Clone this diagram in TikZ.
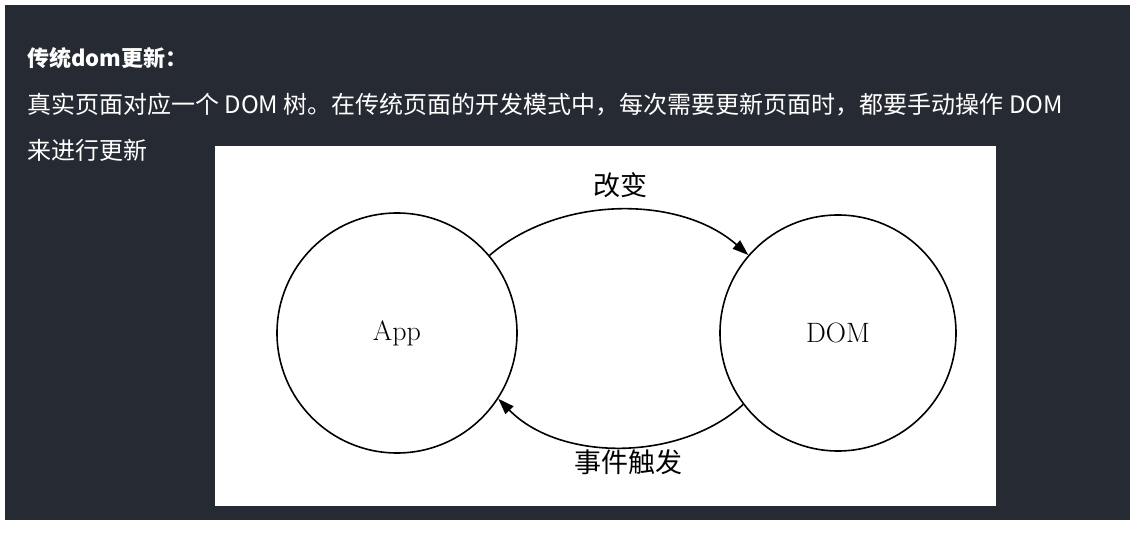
\documentclass[tikz,border=0pt]{standalone}
\usepackage{fontspec}
\newfontfamily\cjk{Noto Sans CJK SC}
\usetikzlibrary{arrows.meta}
\begin{document}
\begin{tikzpicture}[x=1pt,y=-1pt,
  txt/.style={text=white,anchor=west,inner sep=0pt,font=\cjk\fontsize{24}{28}\selectfont},
  circ/.style={circle,draw=black,line width=1.6pt,minimum size=#1,inner sep=0pt,font=\fontsize{28}{32}\selectfont},
  lab/.style={font=\cjk\fontsize{27}{30}\selectfont,inner sep=0pt},
  arr/.style={line width=1.6pt,-{Triangle[length=16pt,width=11pt]}}]
\useasboundingbox (0,0) rectangle (1143,545);
\fill[white] (0,0) rectangle (1143,545);
\fill[fill={rgb,255:red,38;green,42;blue,51}] (5,5) rectangle (1130,520);
\node[txt,font=\cjk\bfseries\fontsize{22}{26}\selectfont] (t1) at (27,58) {传统dom更新：};
\node[txt] (t2) at (27,105) {真实页面对应一个 DOM 树。在传统页面的开发模式中，每次需要更新页面时，都要手动操作 DOM};
\node[txt] (t3) at (27,150) {来进行更新};
\fill[white] (215,146) rectangle (996,506);
\node[circ=240pt] (app) at (397,333) {App};
\node[circ=236pt] (dom) at (838,333) {DOM};
\draw[arr] (app.40) .. controls (560,195) and (680,195) .. (dom.139);
\draw[arr] (dom.217) .. controls (680,462) and (560,462) .. (app.327);
\node[lab] (l1) at (620,185) {改变};
\node[lab] (l2) at (628,462) {事件触发};
\end{tikzpicture}
\end{document}
